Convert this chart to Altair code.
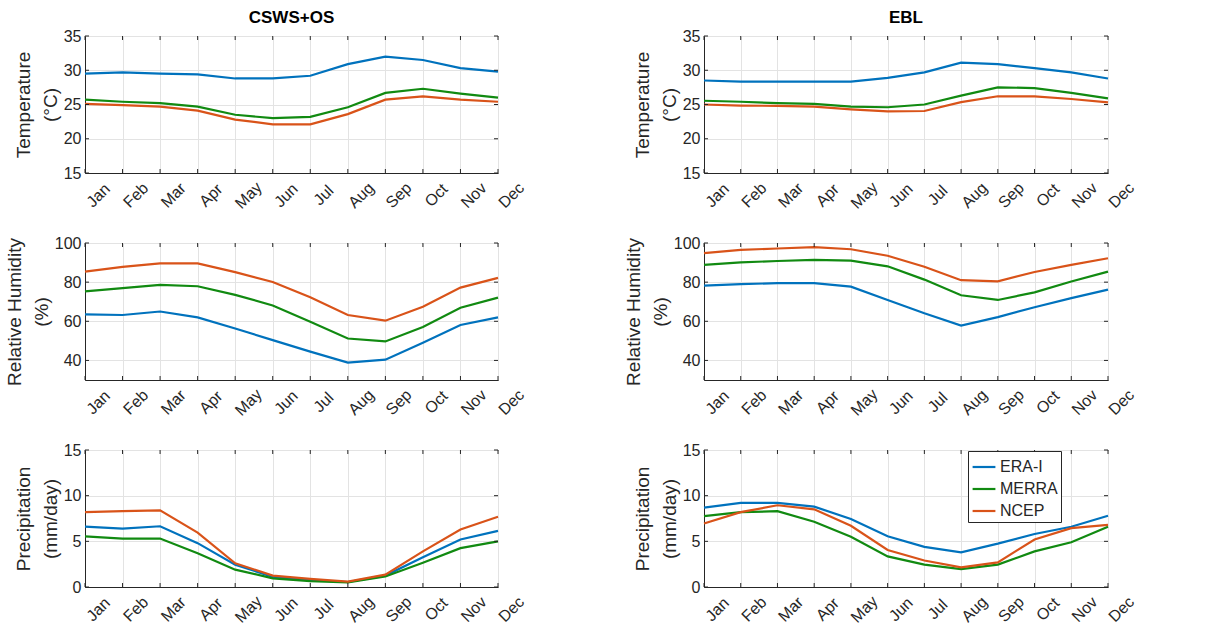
import altair as alt
import pandas as pd

months = ["Jan", "Feb", "Mar", "Apr", "May", "Jun", "Jul", "Aug", "Sep", "Oct", "Nov", "Dec"]
series_names = ["ERA-I", "MERRA", "NCEP"]
series_colors = ["#0072BD", "#118a11", "#D95319"]

# CSWS+OS
csws_temp_era = [29.5, 29.7, 29.5, 29.4, 28.8, 28.8, 29.2, 30.9, 32.0, 31.5, 30.3, 29.8]
csws_temp_merra = [25.7, 25.4, 25.2, 24.7, 23.5, 23.0, 23.2, 24.6, 26.7, 27.3, 26.6, 26.0]
csws_temp_ncep = [25.1, 24.9, 24.7, 24.1, 22.8, 22.1, 22.1, 23.6, 25.7, 26.2, 25.7, 25.4]
csws_rh_era = [63.5, 63.2, 65.0, 62.0, 56.3, 50.4, 44.5, 38.9, 40.4, 49.0, 58.1, 62.0]
csws_rh_merra = [75.3, 76.9, 78.6, 77.9, 73.5, 68.1, 59.8, 51.2, 49.7, 57.1, 66.9, 72.1]
csws_rh_ncep = [85.4, 87.8, 89.6, 89.6, 85.1, 80.1, 72.3, 63.2, 60.3, 67.4, 77.2, 82.2]
csws_pr_era = [6.6, 6.4, 6.65, 4.8, 2.45, 1.1, 0.75, 0.55, 1.25, 3.25, 5.2, 6.15]
csws_pr_merra = [5.55, 5.3, 5.3, 3.7, 1.9, 0.95, 0.65, 0.5, 1.15, 2.65, 4.25, 5.0]
csws_pr_ncep = [8.2, 8.3, 8.4, 5.95, 2.6, 1.25, 0.9, 0.6, 1.35, 3.9, 6.3, 7.7]

# EBL
ebl_temp_era = [28.5, 28.35, 28.35, 28.35, 28.35, 28.9, 29.7, 31.1, 30.9, 30.3, 29.7, 28.8]
ebl_temp_merra = [25.55, 25.4, 25.2, 25.1, 24.7, 24.6, 25.0, 26.3, 27.5, 27.4, 26.7, 25.9]
ebl_temp_ncep = [25.0, 24.85, 24.8, 24.7, 24.3, 24.0, 24.05, 25.35, 26.2, 26.2, 25.8, 25.3]
ebl_rh_era = [78.2, 79.0, 79.5, 79.5, 77.7, 70.9, 64.1, 57.8, 62.1, 67.2, 71.8, 76.2]
ebl_rh_merra = [88.8, 90.1, 90.8, 91.4, 91.0, 88.1, 81.3, 73.3, 70.9, 74.8, 80.3, 85.4]
ebl_rh_ncep = [94.8, 96.5, 97.2, 97.9, 96.8, 93.5, 87.9, 81.0, 80.4, 85.2, 88.8, 92.2]
ebl_pr_era = [8.7, 9.2, 9.2, 8.8, 7.45, 5.55, 4.4, 3.8, 4.75, 5.8, 6.6, 7.8]
ebl_pr_merra = [7.75, 8.2, 8.3, 7.15, 5.5, 3.35, 2.45, 1.95, 2.45, 3.9, 4.9, 6.6]
ebl_pr_ncep = [6.95, 8.2, 8.95, 8.5, 6.7, 4.05, 2.9, 2.15, 2.7, 5.2, 6.45, 6.8]

temp_ticks = [15, 20, 25, 30, 35]
rh_ticks = [40, 60, 80, 100]
pr_ticks = [0, 5, 10, 15]

FONT = "Liberation Sans"
DARK = "#262626"
H = 137


def long_df(era, merra, ncep):
    rows = []
    for name, vals in zip(series_names, [era, merra, ncep]):
        for m, v in zip(months, vals):
            rows.append({"month": m, "series": name, "value": v})
    return pd.DataFrame(rows)


def panel(era, merra, ncep, domain, ticks, ytitle, width, title=None, legend=False):
    df = long_df(era, merra, ncep)
    xscale = alt.Scale(type="point", padding=0, domain=months)
    yscale = alt.Scale(domain=domain, nice=False, zero=False)
    xaxis = alt.Axis(title=None, labelAngle=-45, labelAlign="center",
                     labelBaseline="middle", labelPadding=22, labelOffset=13,
                     ticks=False, grid=True)
    yaxis = alt.Axis(title=ytitle, values=ticks, ticks=False, grid=True, labelPadding=4)
    if legend:
        leg = alt.Legend(
            title=None, orient="none", legendX=264, legendY=1,
            symbolType="stroke", symbolSize=520, symbolStrokeWidth=2.2,
            labelFont=FONT, labelFontSize=16, labelColor=DARK,
            strokeColor=DARK, fillColor="white", padding=3, rowPadding=1,
            labelOffset=3,
        )
    else:
        leg = None
    lines = alt.Chart(df).mark_line(strokeWidth=2.2).encode(
        x=alt.X("month:O", scale=xscale, sort=months, axis=xaxis),
        y=alt.Y("value:Q", scale=yscale, axis=yaxis),
        color=alt.Color("series:N", scale=alt.Scale(domain=series_names, range=series_colors),
                        legend=leg),
    )
    mdf = pd.DataFrame({"month": months})
    xt_top = alt.Chart(mdf).mark_rule(color=DARK, strokeWidth=1).encode(
        x=alt.X("month:O", scale=xscale, sort=months, axis=xaxis),
        y=alt.value(0), y2=alt.value(4))
    xt_bot = alt.Chart(mdf).mark_rule(color=DARK, strokeWidth=1).encode(
        x=alt.X("month:O", scale=xscale, sort=months, axis=xaxis),
        y=alt.value(H - 4), y2=alt.value(H))
    tdf = pd.DataFrame({"value": ticks})
    yt_l = alt.Chart(tdf).mark_rule(color=DARK, strokeWidth=1).encode(
        y=alt.Y("value:Q", scale=yscale, axis=yaxis),
        x=alt.value(0), x2=alt.value(4))
    yt_r = alt.Chart(tdf).mark_rule(color=DARK, strokeWidth=1).encode(
        y=alt.Y("value:Q", scale=yscale, axis=yaxis),
        x=alt.value(width - 4), x2=alt.value(width))
    props = dict(width=width, height=H)
    if title:
        props["title"] = alt.Title(title, fontSize=17, fontWeight="bold", font=FONT,
                                   color="#000000", offset=1)
    return alt.layer(lines, xt_top, xt_bot, yt_l, yt_r).properties(**props)


WL = 413
WR = 404
charts = [
    panel(csws_temp_era, csws_temp_merra, csws_temp_ncep, [15, 35], temp_ticks,
          ["Temperature", "(°C)"], WL, title="CSWS+OS"),
    panel(ebl_temp_era, ebl_temp_merra, ebl_temp_ncep, [15, 35], temp_ticks,
          ["Temperature", "(°C)"], WR, title="EBL"),
    panel(csws_rh_era, csws_rh_merra, csws_rh_ncep, [30, 100], rh_ticks,
          ["Relative Humidity", "(%)"], WL),
    panel(ebl_rh_era, ebl_rh_merra, ebl_rh_ncep, [30, 100], rh_ticks,
          ["Relative Humidity", "(%)"], WR),
    panel(csws_pr_era, csws_pr_merra, csws_pr_ncep, [0, 15], pr_ticks,
          ["Precipitation", "(mm/day)"], WL),
    panel(ebl_pr_era, ebl_pr_merra, ebl_pr_ncep, [0, 15], pr_ticks,
          ["Precipitation", "(mm/day)"], WR, legend=True),
]

chart = alt.concat(*charts, columns=2, spacing={"row": 70, "column": 206},
                   bounds="flush").resolve_scale(color="independent").configure(
    background="white",
    padding={"left": 4, "top": 8, "right": 5, "bottom": 0},
).configure_view(
    stroke=DARK, strokeWidth=1,
).configure_axis(
    labelFont=FONT, labelFontSize=16, labelColor=DARK,
    titleFont=FONT, titleFontSize=19, titleFontWeight="normal", titleColor=DARK,
    titleLineHeight=27, titlePadding=3,
    domainColor=DARK, gridColor="#e3e3e3", gridWidth=1,
)

chart.save("out.html", embed_options={"renderer": "svg", "actions": False})
